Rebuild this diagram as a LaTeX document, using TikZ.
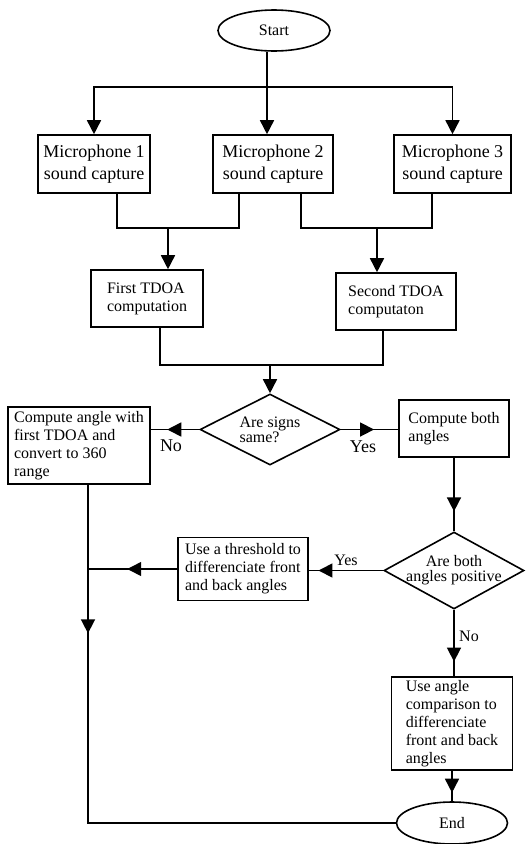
\documentclass[tikz,border=0pt]{standalone}
\usepackage{fontspec}
\setmainfont{Liberation Serif}
\usetikzlibrary{arrows.meta}
\usetikzlibrary{shapes.geometric}
\usetikzlibrary{decorations.markings}

\begin{document}
\begin{tikzpicture}[x=1pt,y=-1pt,line width=1.6pt,
	tip/.style={-{Triangle[width=14pt,length=14pt]}},
	midtip/.style={postaction={decorate},decoration={markings,mark=at position #1 with {\arrow{Triangle[width=14pt,length=14pt]}}}},
	micbox/.style={draw,rectangle,inner sep=2pt,minimum height=58pt,align=center,font=\fontsize{18}{22}\selectfont},
	procbox/.style={draw,rectangle,inner sep=2pt,align=left,font=\fontsize{16}{18}\selectfont},
	decision/.style={draw,diamond,aspect=2,inner sep=-6pt,font=\fontsize{16}{15}\selectfont},
	terminal/.style={draw,ellipse,inner sep=0pt,font=\fontsize{16}{18}\selectfont},
	biglbl/.style={font=\fontsize{18}{22}\selectfont},
	lbl/.style={font=\fontsize{16}{18}\selectfont}]
	\useasboundingbox (0,0) rectangle (532,844);

	\node[terminal,minimum width=112pt,minimum height=41pt] (start) at (274,30.5) {Start};
	\node[micbox,minimum width=112pt] (mic1) at (94,164) {Microphone 1\\sound capture};
	\node[micbox,minimum width=120pt] (mic2) at (273,164) {Microphone 2\\sound capture};
	\node[micbox,minimum width=117pt] (mic3) at (452.5,164) {Microphone 3\\sound capture};
	\node[procbox,minimum width=112pt,minimum height=57pt] (first) at (147,298.5) {First TDOA\\computation};
	\node[procbox,minimum width=120pt,minimum height=57pt] (second) at (396,301.5) {Second TDOA\\computaton};
	\node[decision,align=left,minimum width=140pt,minimum height=71pt] (signs) at (270,429.5) {Are signs\\same?};
	\node[procbox,minimum width=142pt,minimum height=77pt] (angle1) at (79,445.5) {Compute angle with\\first TDOA and\\convert to 360\\range};
	\node[procbox,minimum width=110pt,minimum height=57pt] (both) at (454,428.5) {Compute both\\angles};
	\node[decision,align=center,minimum width=140pt,minimum height=77pt] (pos) at (454,570.5) {Are both\\angles positive};
	\node[procbox,minimum width=130pt,minimum height=63pt] (thresh) at (243,569) {Use a threshold to\\differenciate front\\and back angles};
	\node[procbox,minimum width=121pt,minimum height=93pt] (last) at (452,723.5) {Use angle\\comparison to\\differenciate\\front and back\\angles};
	\node[terminal,minimum width=111pt,minimum height=42pt] (end) at (452,823) {End};

	\node[biglbl] (no1) at (171,446) {No};
	\node[biglbl] (yes1) at (363,447) {Yes};
	\node[lbl] (yes2) at (346,560) {Yes};
	\node[lbl] (no2) at (469,636) {No};

	\coordinate (split) at (267,87);
	\coordinate (j1) at (168,228);
	\coordinate (j2) at (377,228);
	\coordinate (j3) at (270,365);
	\coordinate (m1) at (88,572);

	\draw ([xshift=-7pt]start.south) -- (split);
	\draw[tip] (split) -| (mic1.north);
	\draw[tip] (split) -| (mic3.north);
	\draw[tip] (split) -- (split |- mic2.north);
	\draw ([xshift=23pt]mic1.south) |- (j1) -| ([xshift=-34pt]mic2.south);
	\draw[tip] (j1) -- (j1 |- first.north);
	\draw ([xshift=28pt]mic2.south) |- (j2) -| ([xshift=-20.5pt]mic3.south);
	\draw[tip] (j2) -- (j2 |- second.north);
	\draw ([xshift=13pt]first.south) |- (j3) -| ([xshift=-13pt]second.south);
	\draw[tip] (j3) -- (signs.north);
	\draw[midtip=0.66] (signs.west) -- (signs.west -| angle1.east);
	\draw[midtip=0.58] (signs.east) -- (signs.east -| both.west);
	\draw[midtip=0.73] (both.south) -- (pos.north);
	\draw[midtip=0.87] (pos.west) -- (pos.west -| thresh.east);
	\draw[midtip=0.56] (thresh.west) -- (thresh.west -| m1);
	\draw[midtip=0.23] ([xshift=9pt]angle1.south) |- (end.west);
	\draw[midtip=0.78] (pos.south) -- (pos.south |- last.north);
	\draw[midtip=0.72] (last.south) -- (end.north);
\end{tikzpicture}
\end{document}
